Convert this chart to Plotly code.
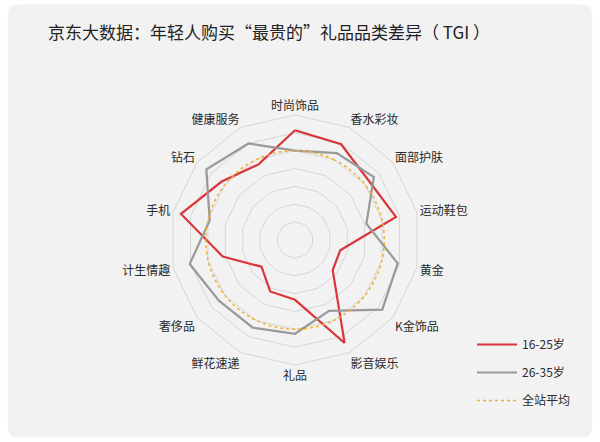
import plotly.graph_objects as go

categories = ["时尚饰品", "香水彩妆", "面部护肤", "运动鞋包", "黄金", "K金饰品", "影音娱乐",
              "礼品", "鲜花速递", "奢侈品", "计生情趣", "手机", "钻石", "健康服务"]
young = [123, 119, 106, 116, 52, 54, 128, 67, 64, 48, 83, 131, 105, 94]
mid = [100, 108, 113, 82, 118, 125, 88, 105, 109, 109, 121, 98, 127, 120]
avg = [100, 100, 100, 100, 100, 100, 100, 100, 100, 100, 100, 100, 100, 100]

W, H = 600, 442
cx, cy, R = 295, 240, 125

def closed(v):
    return v + v[:1]

cats = closed(categories)

fig = go.Figure()
fig.add_trace(go.Scatterpolar(r=closed(young), theta=cats, mode="lines", name="16-25岁",
                              legendgroup="a",
                              line=dict(color="#d9353a", width=2.2)))
fig.add_trace(go.Scatterpolar(r=closed(mid), theta=cats, mode="lines", name="26-35岁",
                              legendgroup="b",
                              line=dict(color="#999999", width=2.2)))
fig.add_trace(go.Scatterpolar(r=closed(avg), theta=cats, mode="lines", name="全站平均",
                              legendgroup="c",
                              line=dict(color="#f0b030", width=1.5, dash="dot", shape="spline")))

fig.update_layout(
    width=W, height=H,
    margin=dict(l=0, r=0, t=0, b=0),
    paper_bgcolor="white",
    plot_bgcolor="rgba(0,0,0,0)",
    font=dict(family="Noto Sans CJK SC", color="#2a2a2a", size=12),
    title=dict(text="京东大数据：年轻人购买“最贵的”礼品品类差异（ TGI ）",
               x=48 / W, xanchor="left", y=1 - 33 / H, yanchor="middle",
               font=dict(size=17, color="#222222", family="Noto Sans CJK SC")),
    polar=dict(
        domain=dict(x=[(cx - R) / W, (cx + R) / W], y=[1 - (cy + R) / H, 1 - (cy - R) / H]),
        bgcolor="rgba(0,0,0,0)",
        gridshape="linear",
        radialaxis=dict(range=[0, 140], dtick=20, showticklabels=False, ticks="",
                        showline=False, gridcolor="#d6d6d6", gridwidth=1),
        angularaxis=dict(direction="clockwise", rotation=90, ticks="",
                         showline=True, linecolor="#d6d6d6", linewidth=1,
                         gridcolor="rgba(0,0,0,0)",
                         tickfont=dict(size=12, color="#2a2a2a")),
    ),
    legend=dict(x=472 / W, y=1 - 330 / H, xanchor="left", yanchor="top",
                bgcolor="rgba(0,0,0,0)", font=dict(size=12, color="#2a2a2a"),
                tracegroupgap=9, itemwidth=40),
    showlegend=True,
    shapes=[dict(type="path", xref="paper", yref="paper", layer="below",
                 path="M 0.03 0.99 L 0.97 0.99 Q 0.987 0.99 0.987 0.965 L 0.987 0.035 Q 0.987 0.01 0.97 0.01 "
                      "L 0.03 0.01 Q 0.013 0.01 0.013 0.035 L 0.013 0.965 Q 0.013 0.99 0.03 0.99 Z",
                 fillcolor="#f2f2f2", line=dict(width=0))],
)

fig.write_html("out.html", config={"displayModeBar": False},
               post_script="document.body.style.margin='0';")
